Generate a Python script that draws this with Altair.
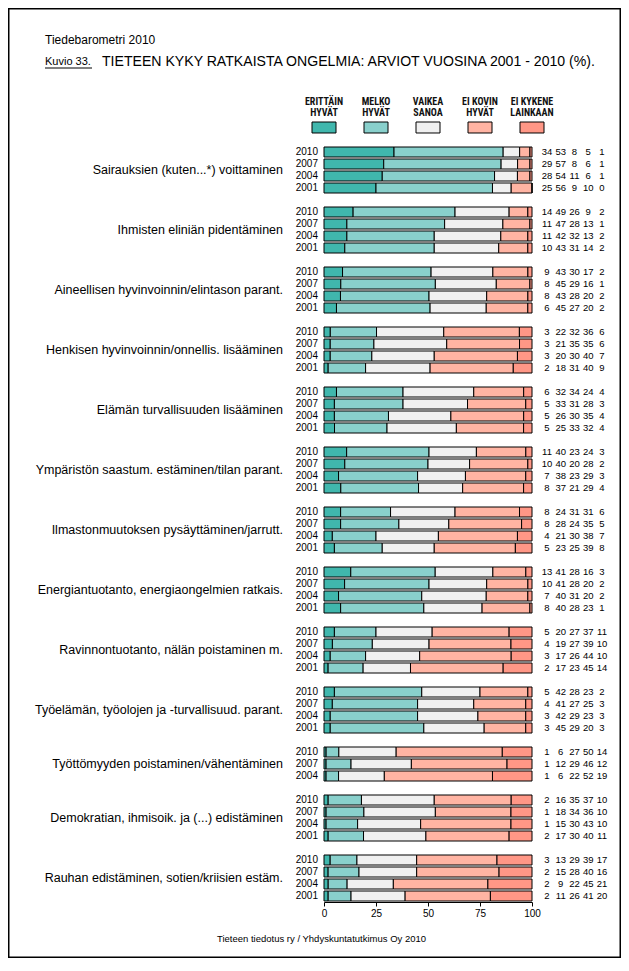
import altair as alt
import pandas as pd

# ---------------- data ----------------
topics = [
    "Sairauksien (kuten...*) voittaminen",
    "Ihmisten eliniän pidentäminen",
    "Aineellisen hyvinvoinnin/elintason parant.",
    "Henkisen hyvinvoinnin/onnellis. lisääminen",
    "Elämän turvallisuuden lisääminen",
    "Ympäristön saastum. estäminen/tilan parant.",
    "Ilmastonmuutoksen pysäyttäminen/jarrutt.",
    "Energiantuotanto, energiaongelmien ratkais.",
    "Ravinnontuotanto, nälän poistaminen m.",
    "Työelämän, työolojen ja -turvallisuud. parant.",
    "Työttömyyden poistaminen/vähentäminen",
    "Demokratian, ihmisoik. ja (...) edistäminen",
    "Rauhan edistäminen, sotien/kriisien estäm.",
]
years_full = [2010, 2007, 2004, 2001]
years_short = [2010, 2007, 2004]
topic_years = [years_full] * 10 + [years_short] + [years_full] * 2

answers = ["ERITTÄIN\nHYVÄT", "MELKO\nHYVÄT", "VAIKEA\nSANOA", "EI KOVIN\nHYVÄT", "EI KYKENE\nLAINKAAN"]
colors = ["#40b7ad", "#89d0cc", "#f0f0f0", "#ffb4a3", "#ff9786"]

sairaudet = [[34, 53, 8, 5, 1], [29, 57, 8, 6, 1], [28, 54, 11, 6, 1], [25, 56, 9, 10, 0]]
elinika = [[14, 49, 26, 9, 2], [11, 47, 28, 13, 1], [11, 42, 32, 13, 2], [10, 43, 31, 14, 2]]
aineellinen = [[9, 43, 30, 17, 2], [8, 45, 29, 16, 1], [8, 43, 28, 20, 2], [6, 45, 27, 20, 2]]
henkinen = [[3, 22, 32, 36, 6], [3, 21, 35, 35, 6], [3, 20, 30, 40, 7], [2, 18, 31, 40, 9]]
turvallisuus = [[6, 32, 34, 24, 4], [5, 33, 31, 28, 3], [5, 26, 30, 35, 4], [5, 25, 33, 32, 4]]
ymparisto = [[11, 40, 23, 24, 3], [10, 40, 20, 28, 2], [7, 38, 23, 29, 3], [8, 37, 21, 29, 4]]
ilmasto = [[8, 24, 31, 31, 6], [8, 28, 24, 35, 5], [4, 21, 30, 38, 7], [5, 23, 25, 39, 8]]
energia = [[13, 41, 28, 16, 3], [10, 41, 28, 20, 2], [7, 40, 31, 20, 2], [8, 40, 28, 23, 1]]
ravinto = [[5, 20, 27, 37, 11], [4, 19, 27, 39, 10], [3, 17, 26, 44, 10], [2, 17, 23, 45, 14]]
tyoelama = [[5, 42, 28, 23, 2], [4, 41, 27, 25, 3], [3, 42, 29, 23, 3], [3, 45, 29, 20, 3]]
tyottomyys = [[1, 6, 27, 50, 14], [1, 12, 29, 46, 12], [1, 6, 22, 52, 19]]
demokratia = [[2, 16, 35, 37, 10], [1, 18, 34, 36, 10], [1, 15, 30, 43, 10], [2, 17, 30, 40, 11]]
rauha = [[3, 13, 29, 39, 17], [2, 15, 28, 40, 16], [2, 9, 22, 45, 21], [2, 11, 26, 41, 20]]

topic_values = [sairaudet, elinika, aineellinen, henkinen, turvallisuus, ymparisto,
                ilmasto, energia, ravinto, tyoelama, tyottomyys, demokratia, rauha]

# ---------------- tables ----------------
bar_rows, num_rows, year_rows, topic_rows = [], [], [], []
r = 0
for t, yrs, vals in zip(topics, topic_years, topic_values):
    idx = []
    for y, v in zip(yrs, vals):
        for ci, (a, val) in enumerate(zip(answers, v)):
            bar_rows.append(dict(row=r, answer=a, ci=ci, value=val))
            num_rows.append(dict(row=r, col=ci, txt=str(val)))
        year_rows.append(dict(row=r, year=str(y)))
        idx.append(r)
        r += 1
    topic_rows.append(dict(row=sum(idx) / len(idx), topic=t))
    r += 1
n_rows = r - 1

bar_df = pd.DataFrame(bar_rows)
num_df = pd.DataFrame(num_rows)
year_df = pd.DataFrame(year_rows)
topic_df = pd.DataFrame(topic_rows)
legend_df = pd.DataFrame({"answer": answers,
                          "pos": [i / (len(answers) - 1) for i in range(len(answers))]})
one = pd.DataFrame({"a": [0]})

FONT = "Liberation Sans, Arial, sans-serif"
NARROW = "Liberation Sans Narrow, Arial Narrow, Roboto Condensed, Liberation Sans, sans-serif"

def xscale():
    return alt.Scale(domain=[0, 1], nice=False, zero=True, padding=0)

yscale = alt.Scale(domain=[-0.5, n_rows - 0.5], reverse=True, nice=False, zero=False, padding=0)

# ---------------- layers ----------------
border = alt.Chart(one).mark_rect(fillOpacity=0, stroke="black", strokeWidth=1.5).encode(
    x=alt.value(-315.25), x2=alt.value(296.25), y=alt.value(-137.25), y2=alt.value(811.25)
)

title1 = alt.Chart(one).mark_text(align="left", baseline="middle", fontSize=12, font=FONT,
                                  color="black").encode(
    x=alt.value(-279), y=alt.value(-106), text=alt.value("Tiedebarometri 2010"))
kuvio = alt.Chart(one).mark_text(align="left", baseline="middle", fontSize=11, font=FONT,
                                 color="black").encode(
    x=alt.value(-279), y=alt.value(-84), text=alt.value("Kuvio 33."))
kuvio_line = alt.Chart(one).mark_rule(color="black", strokeWidth=1).encode(
    x=alt.value(-279), x2=alt.value(-232), y=alt.value(-78))
title2 = alt.Chart(one).mark_text(align="left", baseline="middle", fontSize=14.1, font=FONT,
                                  color="black").encode(
    x=alt.value(-222), y=alt.value(-84),
    text=alt.value("TIETEEN KYKY RATKAISTA ONGELMIA: ARVIOT VUOSINA 2001 - 2010 (%)."))
footer = alt.Chart(one).mark_text(align="center", baseline="middle", fontSize=9.5, font=FONT,
                                  color="black").encode(
    x=alt.value(-2.5), y=alt.value(793),
    text=alt.value("Tieteen tiedotus ry / Yhdyskuntatutkimus Oy 2010"))

color_enc = alt.Color("answer:N", scale=alt.Scale(domain=answers, range=colors), legend=None)

legend_boxes = alt.Chart(legend_df).mark_point(
    shape="M-1,-0.458H1V0.458H-1Z", size=576, filled=True, opacity=1,
    stroke="black", strokeWidth=1).encode(
    x=alt.X("pos:Q", scale=xscale(), axis=None), y=alt.value(-18.5), color=color_enc)
legend_text = alt.Chart(legend_df).mark_text(
    align="center", baseline="middle", lineBreak="\n", lineHeight=11, fontSize=10,
    fontWeight="bold", font=NARROW, color="#111111").encode(
    x=alt.X("pos:Q", scale=xscale(), axis=None), y=alt.value(-44), text="answer:N")

bars = alt.Chart(bar_df).mark_bar(orient="horizontal", size=10, stroke="black",
                                  strokeWidth=1).encode(
    x=alt.X("value:Q", stack="normalize", scale=xscale(),
            axis=alt.Axis(values=[0, 0.25, 0.5, 0.75, 1], labelExpr="format(datum.value*100,'d')",
                          title=None, grid=False, tickSize=4, labelPadding=2, domain=True,
                          labelFlush=False, orient="bottom")),
    y=alt.Y("row:Q", scale=yscale, axis=None),
    color=color_enc,
    order=alt.Order("ci:Q"),
)

years = alt.Chart(year_df).mark_text(align="right", baseline="middle", fontSize=10, font=FONT,
                                     color="black").encode(
    x=alt.value(-6), y=alt.Y("row:Q", scale=yscale, axis=None), text="year:N")

topic_labels = alt.Chart(topic_df).mark_text(align="right", baseline="middle", fontSize=12.5,
                                             font=FONT, color="black").encode(
    x=alt.value(-41), y=alt.Y("row:Q", scale=yscale, axis=None), text="topic:N")

numbers = alt.Chart(num_df).mark_text(align="center", baseline="middle", fontSize=9.5, font=FONT,
                                      color="black").encode(
    x=alt.X("col:Q", scale=alt.Scale(domain=[0, 4], range=[223, 278], nice=False, zero=False),
            axis=None),
    y=alt.Y("row:Q", scale=yscale, axis=None),
    text="txt:N")

chart = alt.layer(border, title1, kuvio, kuvio_line, title2, footer,
                  legend_boxes, legend_text, bars, years, topic_labels, numbers
                  ).resolve_scale(x="independent").properties(
    width=208, height=756,
    padding={"left": 316, "top": 138, "right": 89, "bottom": 56},
    autosize=alt.AutoSizeParams(type="none"),
    background="white",
).configure_view(stroke=None).configure_axis(
    domainColor="black", tickColor="black", labelColor="black",
    labelFont=FONT, labelFontSize=10,
)

chart.save("out.html", embed_options={"renderer": "svg", "actions": False})
